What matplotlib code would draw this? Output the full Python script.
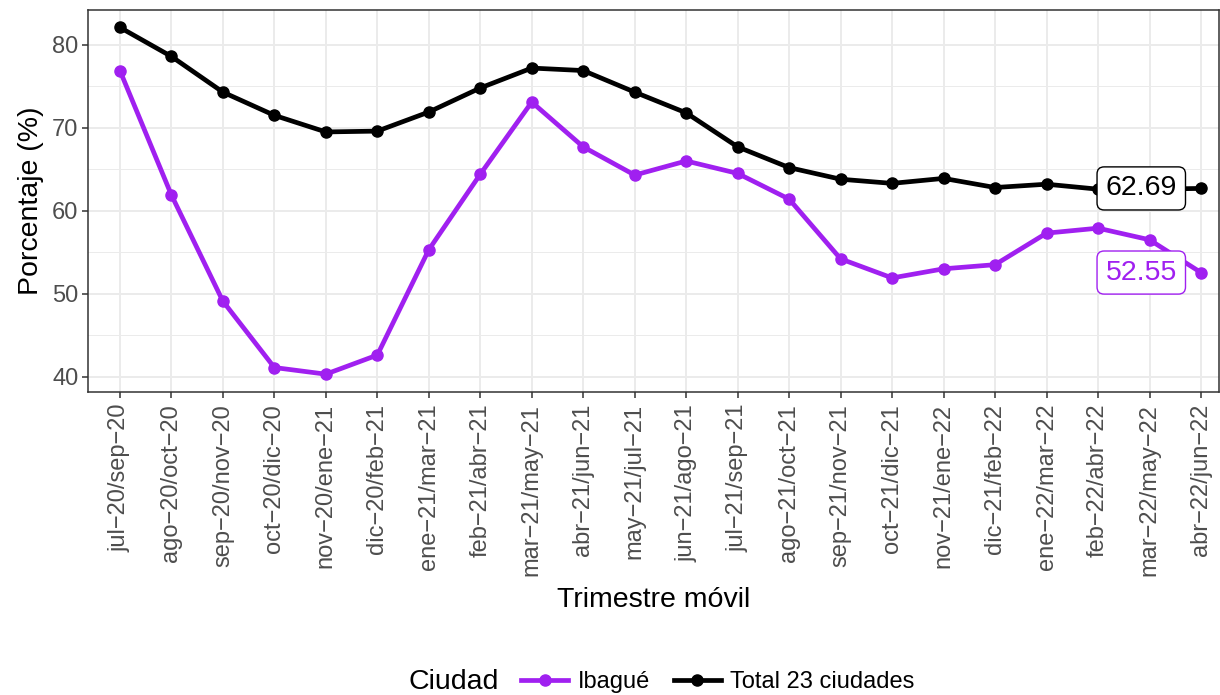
import numpy as np
import matplotlib
matplotlib.use("Agg")
import matplotlib.pyplot as plt
from matplotlib.lines import Line2D

plt.rcParams['font.family'] = ['Liberation Sans', 'DejaVu Sans']

trimestres = ["jul-20/sep-20", "ago-20/oct-20", "sep-20/nov-20", "oct-20/dic-20",
              "nov-20/ene-21", "dic-20/feb-21", "ene-21/mar-21", "feb-21/abr-21",
              "mar-21/may-21", "abr-21/jun-21", "may-21/jul-21", "jun-21/ago-21",
              "jul-21/sep-21", "ago-21/oct-21", "sep-21/nov-21", "oct-21/dic-21",
              "nov-21/ene-22", "dic-21/feb-22", "ene-22/mar-22", "feb-22/abr-22",
              "mar-22/may-22", "abr-22/jun-22"]

ibague = [76.9, 61.9, 49.1, 41.1, 40.3, 42.6, 55.3, 64.4, 73.1, 67.7, 64.3, 66.0,
          64.5, 61.4, 54.2, 51.9, 53.0, 53.5, 57.3, 57.9, 56.5, 52.55]
total = [82.1, 78.6, 74.3, 71.5, 69.5, 69.6, 71.9, 74.8, 77.2, 76.9, 74.3, 71.8,
         67.7, 65.2, 63.8, 63.3, 63.9, 62.8, 63.2, 62.6, 62.6, 62.69]

purpura = "#A020F0"
LW = 3.4
MS = 8

fig = plt.figure(figsize=(12.2, 6.95), dpi=100)
ax = fig.add_axes([88/1220, 1 - 392/695, (1219 - 88)/1220, (392 - 10)/695])

x = np.arange(len(trimestres))
ax.plot(x, total, color="black", lw=LW, marker="o", ms=MS, zorder=3)
ax.plot(x, ibague, color=purpura, lw=LW, marker="o", ms=MS, zorder=3)

# etiquetas del ultimo valor
caja = dict(boxstyle="round,pad=0.3,rounding_size=0.25", fc="white", lw=1)
ax.text(x[-1] - 1.16, total[-1], f"{total[-1]:.2f}", ha="center", va="center",
        fontsize=20.5, color="black", zorder=5, bbox=dict(caja, ec="black"))
ax.text(x[-1] - 1.16, ibague[-1], f"{ibague[-1]:.2f}", ha="center", va="center",
        fontsize=20.5, color=purpura, zorder=5, bbox=dict(caja, ec=purpura))

ax.set_xlim(-0.62, len(trimestres) - 1 + 0.35)
ax.set_ylim(38.15, 84.2)
ax.set_xticks(x)
ax.set_xticklabels([t.replace("-", "\u2212") for t in trimestres], rotation=90,
                   fontsize=17, color="#4D4D4D")
ax.set_yticks([40, 50, 60, 70, 80])
ax.set_yticks([45, 55, 65, 75], minor=True)
ax.tick_params(axis="y", labelsize=17, labelcolor="#4D4D4D")
ax.tick_params(which="major", length=4.5, width=1.1, color="#333333", pad=2.5)
ax.tick_params(axis="x", pad=4)
ax.tick_params(which="minor", length=0)

ax.grid(True, which="major", color="#EBEBEB", lw=1.4, zorder=0)
ax.grid(True, which="minor", axis="y", color="#EBEBEB", lw=0.7, zorder=0)
ax.set_axisbelow(True)
for s in ax.spines.values():
    s.set_color("#333333")
    s.set_linewidth(1.1)

ax.set_xlabel("Trimestre móvil", fontsize=20.5, labelpad=8)
ax.set_ylabel("Porcentaje (%)", fontsize=20.5, labelpad=6)

# leyenda abajo, con el titulo a la izquierda
ley_y = 1 - 682/695
fig.text(409/1220, ley_y, "Ciudad", fontsize=20.5, ha="left", va="center")
handles = [Line2D([], [], color=purpura, lw=LW, marker="o", ms=MS),
           Line2D([], [], color="black", lw=LW, marker="o", ms=MS)]
fig.legend(handles, ["Ibagué", "Total 23 ciudades"], loc="center left",
           bbox_to_anchor=(521/1220, ley_y), ncol=2, frameon=False,
           fontsize=17, handlelength=2.0, columnspacing=1.0, handletextpad=0.4,
           borderpad=0, borderaxespad=0)

fig.savefig("out.png", dpi=100)
